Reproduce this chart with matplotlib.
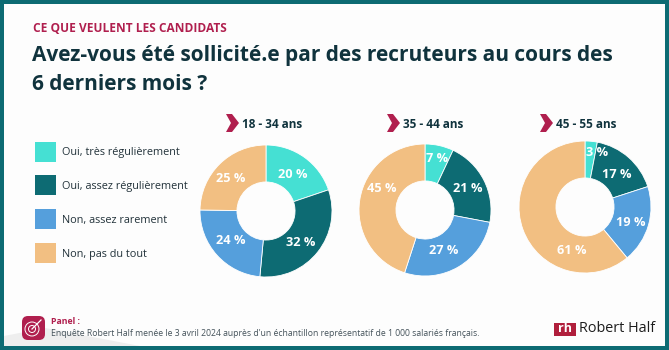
import matplotlib
matplotlib.use('Agg')
import matplotlib.pyplot as plt
from matplotlib.patches import Rectangle, FancyBboxPatch, Polygon, Circle

plt.rcParams['font.family'] = ['Open Sans', 'DejaVu Sans']

W, H = 669, 350

# data
categories = ["Oui, très régulièrement", "Oui, assez régulièrement", "Non, assez rarement", "Non, pas du tout"]
colors = ["#45e0d3", "#0d6b73", "#559fdc", "#f2bf82"]
groups = ["18 - 34 ans", "35 - 44 ans", "45 - 55 ans"]
vals_18 = [20, 32, 24, 25]
vals_35 = [7, 21, 27, 45]
vals_45 = [3, 17, 19, 61]

# layout, in pixels
centers = [(266, 211), (425, 210), (585, 207)]
radius = 66
heads = [226, 387, 540]
label_offsets = [
    [(27, -37), (35, 32), (-35, 30), (-35, -33)],
    [(12, -51), (43, -22), (19, 41), (-43, -22)],
    [(12, -54), (32, -33), (46, 15), (-13, 44)],
]

fig = plt.figure(figsize=(W / 100, H / 100), dpi=100, facecolor="#0d6b73")

# overlay in pixel coords, y going down
bg = fig.add_axes([0, 0, 1, 1])
bg.set_xlim(0, W)
bg.set_ylim(H, 0)
bg.axis('off')
bg.add_patch(Rectangle((4, 4), W - 8, H - 8, fc="#fdfdfd", ec="none"))
bg.add_patch(Polygon([(4, 346), (4, 336), (45, 328), (140, 346)], fc="#eeeeee", ec="none"))

bg.text(33, 28.5, "CE QUE VEULENT LES CANDIDATS", color="#b01f4e", fontsize=8.6, fontweight='bold', va='center')
bg.text(32, 56, "Avez-vous été sollicité.e par des recruteurs au cours des", color="#10333d",
        fontsize=15, fontweight='bold', va='center')
bg.text(32, 85, "6 derniers mois ?", color="#10333d", fontsize=15, fontweight='bold', va='center')

# legend
leg_y = [151.5, 184.5, 218.5, 252.5]
for c, lab, y in zip(colors, categories, leg_y):
    bg.add_patch(Rectangle((35, y - 10), 21, 20, fc=c, ec="none"))
    bg.text(62, y + 1.5, lab, color="#22323a", fontsize=7.8, va='center')

# group headings
for g, hx in zip(groups, heads):
    hy = 123
    bg.add_patch(Polygon([(hx, hy - 9), (hx + 6, hy - 9), (hx + 13, hy), (hx + 6, hy + 9),
                          (hx, hy + 9), (hx + 5, hy)], fc="#b01f4e", ec="none"))
    bg.text(hx + 16, hy + 1, g, color="#10333d", fontsize=8.5, fontweight='bold', va='center')

# donuts
for vals, (cx, cy), offs in zip([vals_18, vals_35, vals_45], centers, label_offsets):
    ax = fig.add_axes([(cx - radius) / W, 1 - (cy + radius) / H, 2 * radius / W, 2 * radius / H])
    ax.pie(vals, colors=colors, startangle=90, counterclock=False, radius=1,
           wedgeprops=dict(width=0.56, edgecolor="white", linewidth=0.6))
    ax.set_xlim(-1, 1)
    ax.set_ylim(-1, 1)
    for v, (dx, dy) in zip(vals, offs):
        ax.text(dx / radius, -dy / radius, f"{v} %", color="white", fontsize=9.2,
                fontweight='bold', ha='center', va='center')

# panel icon
bg.add_patch(FancyBboxPatch((22, 316), 23, 24, boxstyle="round,pad=0,rounding_size=6", fc="#b01f4e", ec="none"))
for r in [7, 3.5]:
    bg.add_patch(Circle((32, 329), r, fc="none", ec="white", lw=0.7))
bg.plot([32, 41], [329, 320], color="white", lw=0.9)

bg.text(51, 322, "Panel :", color="#b01f4e", fontsize=6.3, fontweight='bold', va='center')
bg.text(51, 334, "Enquête Robert Half menée le 3 avril 2024 auprès d'un échantillon représentatif de 1 000 salariés français.",
        color="#44525a", fontsize=6.25, va='center')

# logo
bg.add_patch(Rectangle((554, 323), 22, 13, fc="#b01f3c", ec="none"))
bg.text(565, 329, "rh", color="white", fontsize=9, fontweight='bold', ha='center', va='center')
bg.text(579, 329, "Robert Half", color="#1d1d1d", fontsize=10.4, va='center')

fig.savefig("out.png", dpi=100, facecolor=fig.get_facecolor())
plt.close()
